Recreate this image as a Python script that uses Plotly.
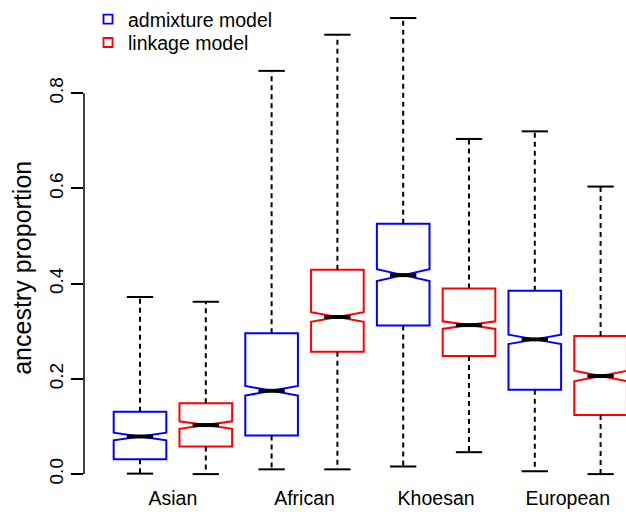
import plotly.graph_objects as go

# Ancestry proportion summaries per reference population, two inference models
groups = ["Asian", "African", "Khoesan", "European"]

adm_lower = [0.001, 0.010, 0.016, 0.006]
adm_q1 = [0.031, 0.081, 0.312, 0.177]
adm_median = [0.079, 0.175, 0.418, 0.283]
adm_q3 = [0.131, 0.296, 0.526, 0.385]
adm_upper = [0.372, 0.847, 0.958, 0.720]
adm_notch = [0.008, 0.010, 0.0125, 0.010]

lnk_lower = [0.000, 0.010, 0.046, 0.000]
lnk_q1 = [0.058, 0.257, 0.248, 0.124]
lnk_median = [0.103, 0.330, 0.313, 0.206]
lnk_q3 = [0.149, 0.429, 0.390, 0.290]
lnk_upper = [0.362, 0.923, 0.704, 0.604]
lnk_notch = [0.008, 0.010, 0.008, 0.011]

y_ticks = [0.0, 0.2, 0.4, 0.6, 0.8]

BLUE = "#0000FF"
RED = "#FF0000"
FONT = "Liberation Sans, Arial, Helvetica, sans-serif"
BOX_W = 0.8
HALF_CAP = BOX_W * 0.25
PLOT_W, PLOT_H = 542, 484

adm_pos = [2 * i + 1 for i in range(len(groups))]
lnk_pos = [2 * i + 2 for i in range(len(groups))]
group_centers = [2 * i + 1.5 for i in range(len(groups))]

fig = go.Figure()

series = [
    ("admixture model", BLUE, "legend", adm_pos, adm_lower, adm_q1, adm_median, adm_q3, adm_upper, adm_notch),
    ("linkage model", RED, "legend2", lnk_pos, lnk_lower, lnk_q1, lnk_median, lnk_q3, lnk_upper, lnk_notch),
]

# notched boxes (whiskers are drawn separately in black dashes)
for name, color, lg, pos, lo, q1, med, q3, up, nspan in series:
    fig.add_trace(go.Box(
        x=pos, q1=q1, median=med, q3=q3,
        lowerfence=q1, upperfence=q3,
        notchspan=nspan, notched=True, notchwidth=0.5,
        width=BOX_W, whiskerwidth=0,
        line=dict(color=color, width=2),
        fillcolor="rgba(0,0,0,0)",
        boxpoints=False, showlegend=False, hoverinfo="skip",
    ))

# whiskers, staples and medians
for name, color, lg, pos, lo, q1, med, q3, up, nspan in series:
    wx, wy, cx, cy, mx, my = [], [], [], [], [], []
    for p, a, b, m, c, d in zip(pos, lo, q1, med, q3, up):
        wx += [p, p, None, p, p, None]
        wy += [c, d, None, b, a, None]
        cx += [p - HALF_CAP, p + HALF_CAP, None, p - HALF_CAP, p + HALF_CAP, None]
        cy += [d, d, None, a, a, None]
        mx += [p - HALF_CAP, p + HALF_CAP, None]
        my += [m, m, None]
    fig.add_trace(go.Scatter(x=wx, y=wy, mode="lines",
                             line=dict(color="black", width=2, dash="5px,4px"),
                             showlegend=False, hoverinfo="skip"))
    fig.add_trace(go.Scatter(x=cx, y=cy, mode="lines",
                             line=dict(color="black", width=2),
                             showlegend=False, hoverinfo="skip"))
    fig.add_trace(go.Scatter(x=mx, y=my, mode="lines",
                             line=dict(color="black", width=4),
                             showlegend=False, hoverinfo="skip"))

# legend entries, one legend box each so they can be stacked tightly
for name, color, lg, *_ in series:
    fig.add_trace(go.Scatter(
        x=[None], y=[None], mode="markers", name=name, legend=lg,
        marker=dict(symbol="square-open", size=9, color=color, line=dict(width=1.8, color=color)),
    ))

legend_common = dict(xanchor="left", yanchor="top", bgcolor="rgba(0,0,0,0)",
                     font=dict(size=19.5, family=FONT))

fig.update_layout(
    width=626, height=512,
    margin=dict(l=84, r=0, t=0, b=28),
    paper_bgcolor="white", plot_bgcolor="white",
    font=dict(family=FONT, color="black"),
    boxmode="overlay",
    legend=dict(x=4 / PLOT_W, y=1 + 4.5 / PLOT_H, **legend_common),
    legend2=dict(x=4 / PLOT_W, y=1 - 19.5 / PLOT_H, **legend_common),
    xaxis=dict(range=[0.149, 8.386], showgrid=False, zeroline=False, showline=False,
               tickmode="array", tickvals=group_centers, ticktext=groups,
               ticks="", tickfont=dict(size=19.5, family=FONT)),
    yaxis=dict(range=[-0.0208, 0.9875], showgrid=False, zeroline=False, showline=False,
               tickmode="array", tickvals=y_ticks,
               ticktext=[f"{v:.1f}" for v in y_ticks],
               ticks="outside", ticklen=12, tickwidth=1.5, tickcolor="black",
               tickangle=-90, tickfont=dict(size=19, family=FONT)),
    shapes=[dict(type="line", xref="paper", yref="y", x0=0, x1=0,
                 y0=y_ticks[0], y1=y_ticks[-1], line=dict(color="black", width=1.5))],
    annotations=[dict(text="ancestry proportion", textangle=-90, showarrow=False,
                      xref="paper", yref="paper", x=(22 - 84) / PLOT_W, y=1 - 266 / PLOT_H,
                      xanchor="center", yanchor="middle",
                      font=dict(size=25, family=FONT))],
)

fig.write_html("out.html")
